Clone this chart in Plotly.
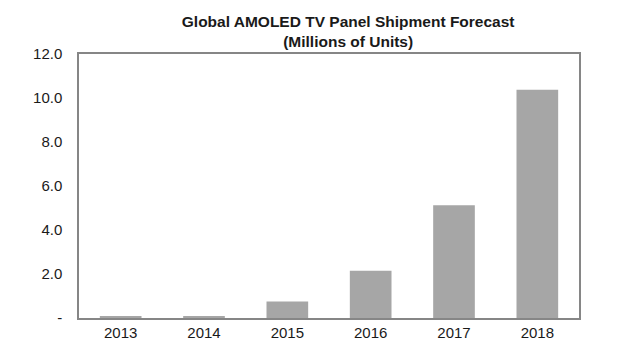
import plotly.graph_objects as go

years = ["2013", "2014", "2015", "2016", "2017", "2018"]
shipments = [0.05, 0.05, 0.75, 2.15, 5.13, 10.38]
y_tick_vals = [0, 2, 4, 6, 8, 10, 12]
y_tick_text = ["-", "2.0", "4.0", "6.0", "8.0", "10.0", "12.0"]

fig = go.Figure(go.Bar(
    x=years, y=shipments,
    marker=dict(color="#a6a6a6", line=dict(width=0)),
    width=0.5,
))

fig.update_layout(
    width=640, height=360,
    paper_bgcolor="white", plot_bgcolor="white",
    margin=dict(l=79, r=61, t=54, b=42),
    showlegend=False,
    title=dict(
        text="<b>Global AMOLED TV Panel Shipment Forecast<br>(Millions of Units)</b>",
        x=0.544, xanchor="center", yref="container", y=0.926, yanchor="middle",
        font=dict(family="Arial, Liberation Sans", size=15.5, color="#1a1a1a"),
    ),
    font=dict(family="Arial, Liberation Sans", size=15, color="#1a1a1a"),
)
fig.update_xaxes(
    showline=True, linecolor="#868686", linewidth=1.5, mirror=True,
    showgrid=False, ticks="", ticklabelstandoff=0,
)
fig.update_yaxes(
    range=[0, 12], tickvals=y_tick_vals, ticktext=y_tick_text,
    showline=True, linecolor="#868686", linewidth=1.5, mirror=True,
    showgrid=False, ticks="", zeroline=False, ticklabelstandoff=12,
)

fig.write_html(
    "out.html",
    config={"displayModeBar": False},
    post_script="document.body.style.margin='0';document.body.style.overflow='hidden';",
)
